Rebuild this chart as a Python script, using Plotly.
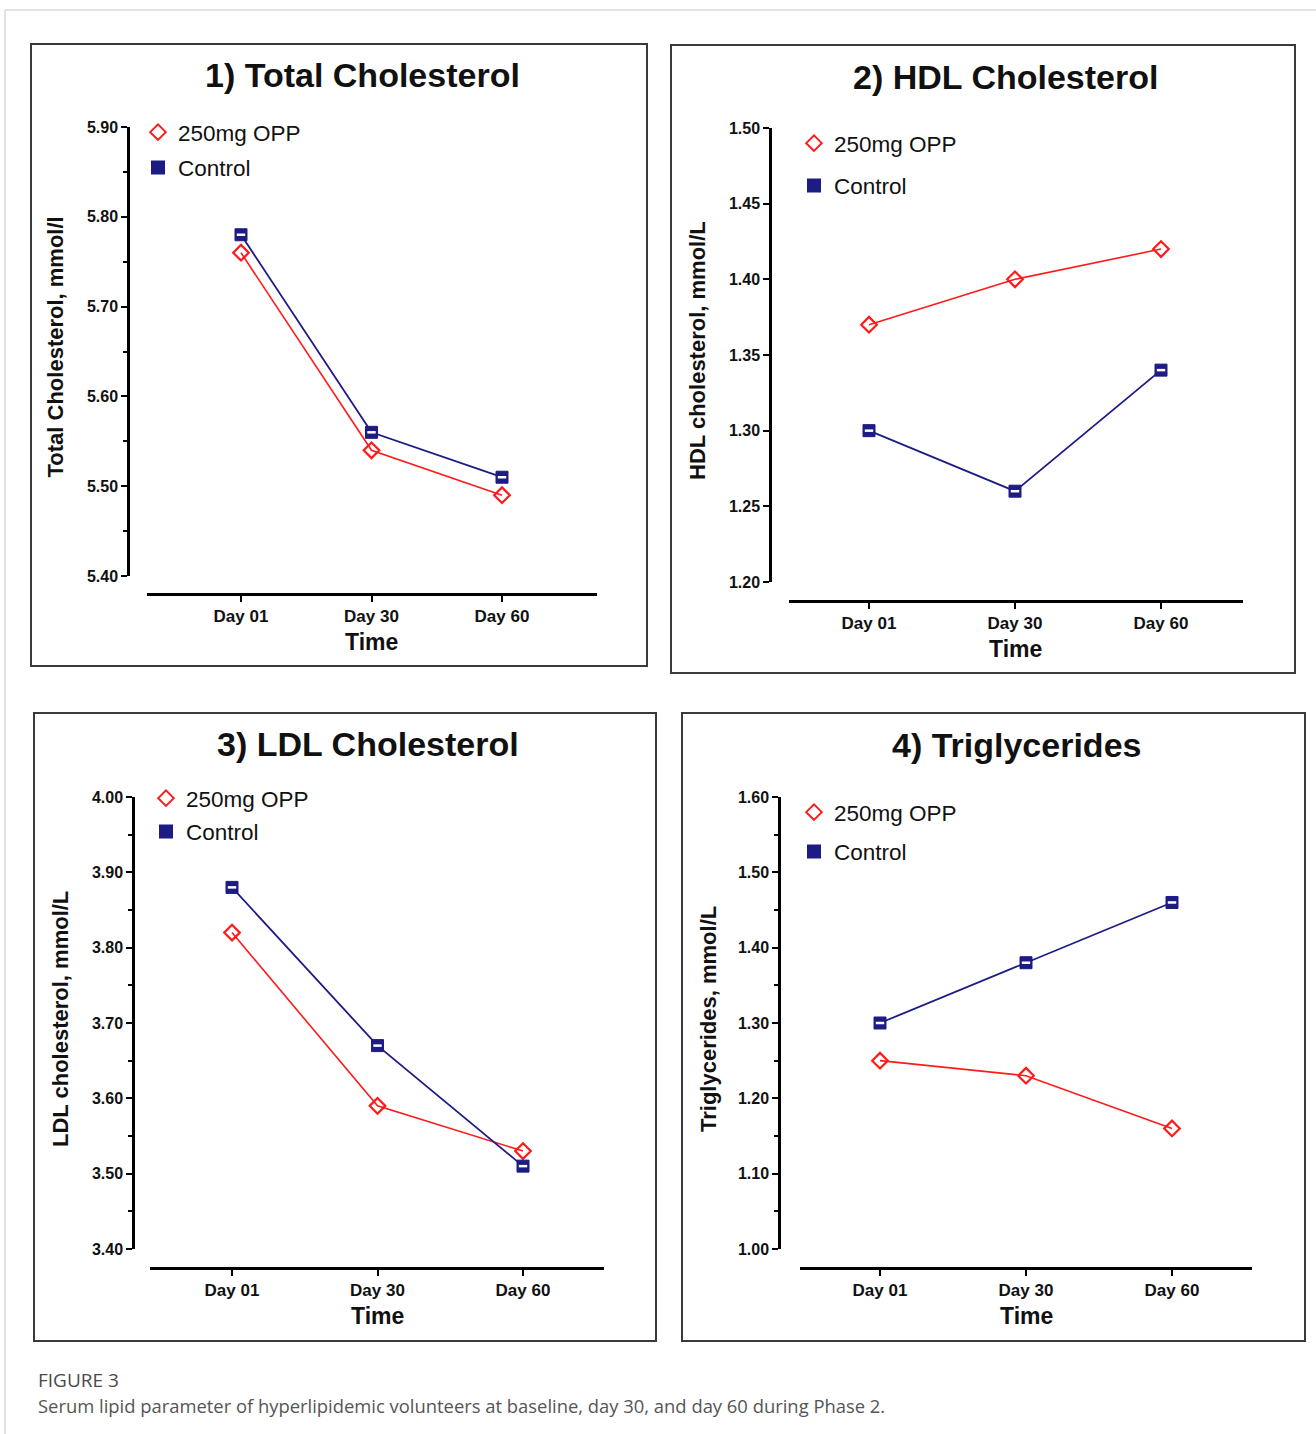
import plotly.graph_objects as go

# ---------------- data ----------------
days = ["Day 01", "Day 30", "Day 60"]
series_names = ["250mg OPP", "Control"]

titles = ["1) Total Cholesterol", "2) HDL Cholesterol", "3) LDL Cholesterol", "4) Triglycerides"]
y_titles = ["Total Cholesterol, mmol/l", "HDL cholesterol, mmol/L",
            "LDL cholesterol, mmol/L", "Triglycerides, mmol/L"]

tc_opp = [5.76, 5.54, 5.49]
tc_ctrl = [5.78, 5.56, 5.51]
hdl_opp = [1.37, 1.40, 1.42]
hdl_ctrl = [1.30, 1.26, 1.34]
ldl_opp = [3.82, 3.59, 3.53]
ldl_ctrl = [3.88, 3.67, 3.51]
tg_opp = [1.25, 1.23, 1.16]
tg_ctrl = [1.30, 1.38, 1.46]

y_ranges = [[5.40, 5.90], [1.20, 1.50], [3.40, 4.00], [1.00, 1.60]]
y_dticks = [0.10, 0.05, 0.10, 0.10]
y_minor = [0.05, None, 0.05, 0.05]

caption_head = "FIGURE 3"
caption_text = ("Serum lipid parameter of hyperlipidemic volunteers at baseline, "
                "day 30, and day 60 during Phase 2.")

panel_data = [(tc_opp, tc_ctrl), (hdl_opp, hdl_ctrl), (ldl_opp, ldl_ctrl), (tg_opp, tg_ctrl)]

# ---------------- layout geometry (pixels) ----------------
W, H = 1316, 1434


def px(x):
    return x / W


def py(y):
    return 1 - y / H


panels = [
    dict(box=(31, 44, 647, 666), yx=128, yt=127, yb=576, xly=594, xl=147, xr=597, c0=241, c2=502,
         tx=362, ty=75, ytx=55, leg=(158, 133), gap=36),
    dict(box=(671, 45, 1295, 673), yx=770, yt=128, yb=582, xly=601, xl=789, xr=1243, c0=869, c2=1161,
         tx=1006, ty=77, ytx=697, leg=(814, 144), gap=43),
    dict(box=(34, 713, 656, 1341), yx=133, yt=797, yb=1249, xly=1268, xl=150, xr=604, c0=232, c2=523,
         tx=368, ty=744, ytx=60, leg=(166, 799), gap=34),
    dict(box=(682, 713, 1305, 1341), yx=779, yt=797, yb=1249, xly=1268, xl=800, xr=1252, c0=880, c2=1172,
         tx=1016, ty=745, ytx=708, leg=(814, 813), gap=40),
]

RED = "#ff1a1a"
NAVY = "#1c1c84"
BOLD = "Liberation Sans, Arial, sans-serif"
LEG_FONT = 22.5

fig = go.Figure()
layout_updates = {}
annotations = []
shapes = []

for i, (p, (opp, ctrl)) in enumerate(zip(panels, panel_data)):
    n = i + 1
    xa = "x" if n == 1 else f"x{n}"
    ya = "y" if n == 1 else f"y{n}"
    leg = "legend" if n == 1 else f"legend{n}"

    fig.add_trace(go.Scatter(x=days, y=opp, mode="lines", line=dict(color=RED, width=1.6),
                             xaxis=xa, yaxis=ya, showlegend=False, hoverinfo="skip"))
    fig.add_trace(go.Scatter(x=days, y=ctrl, mode="lines", line=dict(color=NAVY, width=1.8),
                             xaxis=xa, yaxis=ya, showlegend=False, hoverinfo="skip"))
    fig.add_trace(go.Scatter(x=days, y=opp, mode="markers", name=series_names[0],
                             marker=dict(symbol="diamond-open", size=12, color=RED,
                                         line=dict(width=2.2, color=RED)),
                             xaxis=xa, yaxis=ya, legend=leg, legendgroup=f"a{n}",
                             cliponaxis=False))
    fig.add_trace(go.Scatter(x=days, y=ctrl, mode="markers", name=series_names[1],
                             marker=dict(symbol="square", size=12, color=NAVY,
                                         line=dict(width=1, color=NAVY)),
                             xaxis=xa, yaxis=ya, legend=leg, legendgroup=f"b{n}",
                             cliponaxis=False))
    fig.add_trace(go.Scatter(x=days, y=ctrl, mode="markers", showlegend=False, hoverinfo="skip",
                             marker=dict(symbol="line-ew", size=6, color="white",
                                         line=dict(width=2.5, color="white")),
                             xaxis=xa, yaxis=ya, cliponaxis=False))

    spacing = (p["c2"] - p["c0"]) / 2
    lo = (p["xl"] - p["c0"]) / spacing
    hi = (p["xr"] - p["c0"]) / spacing

    xkey = "xaxis" if n == 1 else f"xaxis{n}"
    ykey = "yaxis" if n == 1 else f"yaxis{n}"
    layout_updates[xkey] = dict(
        domain=[px(p["xl"]), px(p["xr"])], anchor="free", position=py(p["xly"]),
        type="category", range=[lo, hi], showline=True, linecolor="black", linewidth=3,
        ticks="outside", ticklen=6, tickwidth=2, tickcolor="black", showgrid=False, zeroline=False,
        automargin=False,
        tickfont=dict(family=BOLD, size=17, color="#111", weight="bold"),
    )
    yax = dict(
        domain=[py(p["yb"]), py(p["yt"])], anchor="free", position=px(p["yx"]),
        range=y_ranges[i], dtick=y_dticks[i], tick0=y_ranges[i][0], tickformat=".2f",
        showline=True, linecolor="black", linewidth=2.5, ticks="outside", ticklen=6,
        tickwidth=2, tickcolor="black", showgrid=False, zeroline=False, automargin=False,
        tickfont=dict(family=BOLD, size=16, color="#111", weight="bold"),
    )
    if y_minor[i]:
        yax["minor"] = dict(dtick=y_minor[i], tick0=y_ranges[i][0], ticks="outside",
                            ticklen=4, tickwidth=2, tickcolor="black", showgrid=False)
    layout_updates[ykey] = yax

    lx, ly = p["leg"]
    layout_updates[leg] = dict(
        x=px(lx - 20), y=py(ly - 22), xanchor="left", yanchor="top",
        bgcolor="rgba(0,0,0,0)", font=dict(family="Liberation Sans, Arial", size=LEG_FONT, color="#111"),
        tracegroupgap=max(p["gap"] - 33, 0), itemsizing="constant",
    )

    annotations.append(dict(text=titles[i], x=px(p["tx"]), y=py(p["ty"]), xref="paper", yref="paper",
                            showarrow=False, xanchor="center", yanchor="middle",
                            font=dict(family=BOLD, size=34, color="#111", weight="bold")))
    annotations.append(dict(text=y_titles[i], x=px(p["ytx"]), y=py((p["yt"] + p["yb"]) / 2 - 4),
                            xref="paper", yref="paper", showarrow=False, textangle=-90,
                            xanchor="center", yanchor="middle",
                            font=dict(family=BOLD, size=22, color="#111", weight="bold")))
    annotations.append(dict(text="Time", x=px((p["c0"] + p["c2"]) / 2), y=py(p["xly"] + 48),
                            xref="paper", yref="paper", showarrow=False, xanchor="center",
                            yanchor="middle",
                            font=dict(family=BOLD, size=23, color="#111", weight="bold")))
    x0, y0, x1, y1 = p["box"]
    shapes.append(dict(type="rect", xref="paper", yref="paper", x0=px(x0), x1=px(x1),
                       y0=py(y1), y1=py(y0), line=dict(color="#3a3a3a", width=2)))

shapes.append(dict(type="line", xref="paper", yref="paper", x0=px(5), x1=1, y0=py(10), y1=py(10),
                   line=dict(color="#d8d8d8", width=1.5)))
shapes.append(dict(type="line", xref="paper", yref="paper", x0=px(5), x1=px(5), y0=0, y1=py(10),
                   line=dict(color="#d8d8d8", width=1.5)))

annotations.append(dict(text=caption_head, x=px(36), y=py(1380), xref="paper", yref="paper",
                        showarrow=False, xanchor="left", yanchor="middle",
                        font=dict(family="Open Sans, Lato, sans-serif", size=19, color="#4a4a4a")))
annotations.append(dict(text=caption_text, x=px(36), y=py(1405), xref="paper", yref="paper",
                        showarrow=False, xanchor="left", yanchor="middle",
                        font=dict(family="Open Sans, Lato, sans-serif", size=18.4, color="#555")))

fig.update_layout(
    width=W, height=H, margin=dict(l=0, r=0, t=0, b=0, pad=0, autoexpand=False),
    paper_bgcolor="white", plot_bgcolor="white",
    annotations=annotations, shapes=shapes, **layout_updates,
)

post = (
    "document.documentElement.style.margin='0';document.documentElement.style.padding='0';"
    "document.documentElement.style.overflow='hidden';"
    "document.body.style.margin='0';document.body.style.padding='0';"
    "document.body.style.overflow='hidden';document.body.style.height='1434px';"
    "var d=document.getElementsByClassName('plotly-graph-div')[0];"
    "d.style.position='absolute';d.style.top='0px';d.style.left='0px';"
)

fig.write_html("out.html", config={"displayModeBar": False}, post_script=post)
